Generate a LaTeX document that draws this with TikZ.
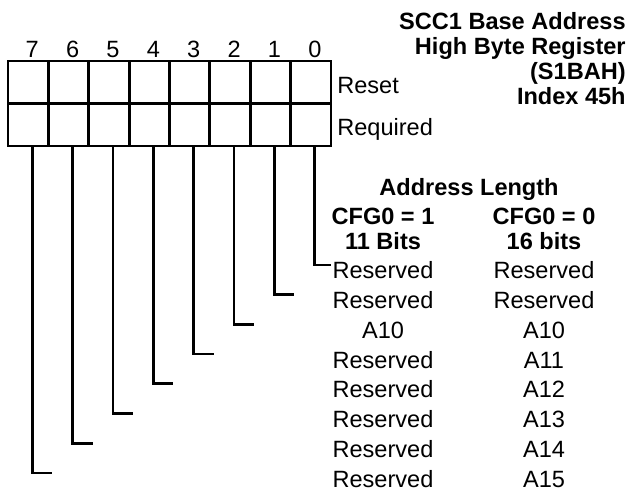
\documentclass[tikz,border=0pt]{standalone}
\usepackage{fontspec}
\setmainfont{Liberation Sans}

\begin{document}
\begin{tikzpicture}[
  cell/.style={draw,line width=1.6pt,minimum width=0.8075cm,minimum height=0.85cm,inner sep=0pt},
  txt/.style={font=\fontsize{13.4}{14.2}\selectfont,inner sep=0.5pt},
  bitno/.style={txt,anchor=base},
  field/.style={txt,anchor=base},
  hdr/.style={txt,font=\fontsize{13.4}{14.2}\selectfont\bfseries,align=center},
  wire/.style={line width=1.5pt}
]
  \useasboundingbox (0,0) rectangle (12.58,9.94);

  % register title
  \node[hdr,align=right,anchor=north east,inner sep=0pt] (title) at (12.52,9.69)
    {SCC1 Base Address\\High Byte Register\\(S1BAH)\\Index 45h};

  % register cells, bit 7 on the left
  \foreach \b in {0,...,7}{
    \pgfmathsetmacro\cx{0.16+0.8075*(7.5-\b)}
    \node[cell] (rst\b) at (\cx,8.295) {};
    \node[cell] (req\b) at (\cx,7.445) {};
    \node[bitno] (no\b) at (\cx+0.08,8.78) {\b};
  }
  \node[txt,anchor=base west,inner sep=0pt] (reset) at (6.74,8.07) {Reset};
  \node[txt,anchor=base west,inner sep=0pt] (required) at (6.74,7.23) {Required};

  % address length table
  \node[hdr,anchor=base] (addrlen) at (9.38,6.03) {Address Length};
  \node[hdr,anchor=north,inner sep=0pt] (cfgone)  at (7.66,5.78)  {CFG0 = 1\\11 Bits};
  \node[hdr,anchor=north,inner sep=0pt] (cfgzero) at (10.88,5.78) {CFG0 = 0\\16 bits};
  \foreach \lo/\hi [count=\k from 0] in {Reserved/Reserved,Reserved/Reserved,A10/A10,
      Reserved/A11,Reserved/A12,Reserved/A13,Reserved/A14,Reserved/A15}{
    \node[field] (short\k) at (7.66,4.372-0.598*\k) {\lo};
    \node[field] (long\k)  at (10.88,4.372-0.598*\k) {\hi};
  }

  % bit leads
  \draw[wire] ([xshift=0.8mm]req0.south) |- ([yshift=1mm]short0.west);
  \foreach \b in {1,...,7}{
    \pgfmathsetmacro\lx{0.16+0.8075*(7.5-\b)+0.08}
    \coordinate (end\b) at (\lx+0.4,4.64-0.594*\b);
    \draw[wire] ([xshift=0.8mm]req\b.south) |- (end\b);
  }
\end{tikzpicture}
\end{document}
